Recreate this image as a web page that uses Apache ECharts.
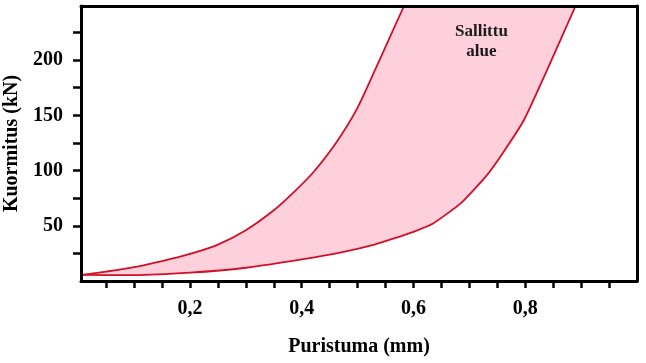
<!DOCTYPE html>
<html>
<head>
<meta charset="utf-8">
<script src="https://cdn.jsdelivr.net/npm/echarts@6/dist/echarts.min.js"></script>
<style>html,body{margin:0;padding:0;background:#fff}#c{width:646px;height:363px}</style>
</head>
<body>
<div id="c"></div>
<script>
// Upper (steep) boundary curve: [Puristuma mm, Kuormitus kN]
const upperX = [0.007, 0.05, 0.1, 0.15, 0.2, 0.25, 0.3, 0.35, 0.385, 0.42, 0.46, 0.5, 0.54, 0.583];
const upperY = [5.5, 8.5, 12.5, 18, 24.5, 33, 46, 64, 80, 98, 124, 157, 201, 249];
// Lower (right) boundary curve
const lowerX = [0.007, 0.1, 0.2, 0.3, 0.4, 0.475, 0.53, 0.565, 0.6, 0.635, 0.685, 0.73, 0.76, 0.798, 0.84, 0.89];
const lowerY = [5.5, 5.3, 7.5, 12, 19.5, 26.4, 33, 38.5, 44.5, 52, 70.5, 95, 116, 146, 192, 249];
const xTicks = [0.05,0.1,0.15,0.2,0.25,0.3,0.35,0.4,0.45,0.5,0.55,0.6,0.65,0.7,0.75,0.8,0.85,0.9,0.95];
const xLabels = [0.2, 0.4, 0.6, 0.8];
const yTicks = [25,50,75,100,125,150,175,200,225];
const yLabels = [50, 100, 150, 200];
const xMin = 0.005, xMax = 1.0, yMin = 0, yMax = 249;
const areaLabel = 'Sallittu\nalue';
const xTitle = 'Puristuma (mm)';
const yTitle = 'Kuormitus (kN)';

const upper = upperX.map((x, i) => [x, upperY[i]]);
const lower = lowerX.map((x, i) => [x, lowerY[i]]);

const FONT = "'Liberation Serif','Times New Roman',serif";
const RED = '#cf1029';

const chart = echarts.init(document.getElementById('c'), null, {renderer: 'canvas'});
chart.setOption({
  backgroundColor: '#fff',
  animation: false,
  grid: {left: 81, right: 9, top: 6, bottom: 82, containLabel: false, outerBoundsMode: 'none'},
  xAxis: [{
    type: 'value', position: 'bottom', min: xMin, max: xMax, z: 10,
    axisLine: {show: true, lineStyle: {color: '#000', width: 3}},
    axisTick: {show: true, inside: false, length: 7, lineStyle: {color: '#000', width: 2.5}, customValues: xTicks},
    axisLabel: {show: true, margin: 18, customValues: xLabels, color: '#000',
      fontFamily: FONT, fontWeight: 'bold', fontSize: 20,
      formatter: v => v.toFixed(1).replace('.', ',')},
    splitLine: {show: false},
    name: xTitle, nameLocation: 'middle', nameGap: 56,
    nameTextStyle: {color: '#000', fontFamily: FONT, fontWeight: 'bold', fontSize: 20}
  }, {
    type: 'value', position: 'top', min: xMin, max: xMax, z: 10,
    axisLine: {show: true, onZero: false, lineStyle: {color: '#000', width: 3}},
    axisTick: {show: false}, axisLabel: {show: false}, splitLine: {show: false}
  }],
  yAxis: [{
    type: 'value', position: 'left', min: yMin, max: yMax, z: 10,
    axisLine: {show: true, onZero: false, lineStyle: {color: '#000', width: 3}},
    axisTick: {show: true, inside: false, length: 8, lineStyle: {color: '#000', width: 2.5}, customValues: yTicks},
    axisLabel: {show: true, margin: 18, customValues: yLabels, color: '#000',
      fontFamily: FONT, fontWeight: 'bold', fontSize: 20},
    splitLine: {show: false},
    name: yTitle, nameLocation: 'middle', nameGap: 56, nameRotate: 90,
    nameTextStyle: {color: '#000', fontFamily: FONT, fontWeight: 'bold', fontSize: 20}
  }, {
    type: 'value', position: 'right', min: yMin, max: yMax, z: 10,
    axisLine: {show: true, onZero: false, lineStyle: {color: '#000', width: 3}},
    axisTick: {show: false}, axisLabel: {show: false}, splitLine: {show: false}
  }],
  graphic: [{
    type: 'text', left: 455, top: 22, z: 20,
    style: {text: areaLabel, fill: '#1a1a1a', font: "bold 17px 'Liberation Serif','Times New Roman',serif",
      textAlign: 'center', lineHeight: 20}
  }],
  series: [{
    type: 'custom', z: 1, silent: true,
    data: [0],
    renderItem: function (params, api) {
      const pts = upper.map(p => api.coord(p)).concat(lower.slice().reverse().map(p => api.coord(p)));
      return {type: 'polygon', shape: {points: pts}, style: {fill: '#fdd0dc', stroke: null}};
    }
  }, {
    type: 'line', data: upper, showSymbol: false, smooth: 0.25, z: 3,
    lineStyle: {color: RED, width: 1.8}
  }, {
    type: 'line', data: lower, showSymbol: false, smooth: 0.15, z: 3,
    lineStyle: {color: RED, width: 1.8}
  }]
});
</script>
</body>
</html>
